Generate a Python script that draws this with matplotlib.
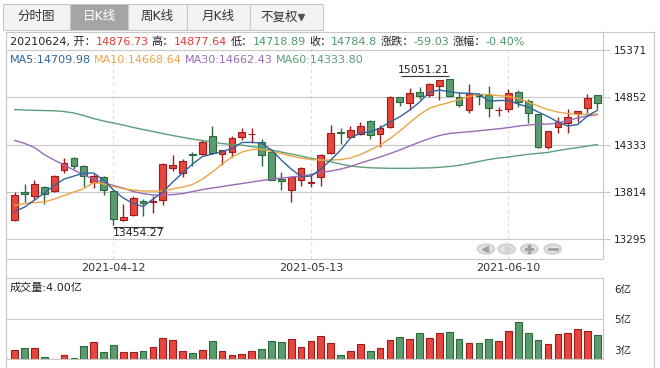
import matplotlib
matplotlib.use("Agg")
import matplotlib.pyplot as plt
from matplotlib.patches import Rectangle, Circle
from matplotlib.lines import Line2D

plt.rcParams['font.family'] = ['DejaVu Sans', 'Noto Sans CJK SC']

# daily candles, 2021-03-26 .. 2021-06-24
opens = [13503, 13813, 13769, 13871, 13821, 14051, 14183, 14102, 13920, 13975,
         13821, 13506, 13558, 13711, 13700, 13725, 14073, 14018, 14230, 14227,
         14424, 14227, 14252, 14420, 14450, 14358, 14249, 13952, 13835, 13945,
         13915, 13974, 14238, 14472, 14417, 14453, 14592, 14449, 14530, 14852,
         14793, 14907, 14877, 14973, 15049, 14852, 14713, 14888, 14877, 14710,
         14720, 14913, 14808, 14665, 14304, 14523, 14567, 14683, 14731, 14876.73]
highs = [13816, 13901, 13941, 13875, 13996, 14183, 14197, 14105, 14007, 13989,
         13830, 13678, 13769, 13733, 13769, 14135, 14216, 14178, 14255, 14384,
         14537, 14275, 14427, 14512, 14512, 14391, 14260, 14036, 13989, 14091,
         14018, 14230, 14548, 14519, 14540, 14584, 14600, 14548, 14866, 14860,
         14951, 14968, 15006, 15045, 15051.21, 14913, 14998, 14895, 14976, 14749,
         14940, 14932, 14830, 14670, 14485, 14633, 14720, 14705, 14885, 14877.64]
lows = [13495, 13700, 13725, 13678, 13815, 14018, 14069, 13865, 13854, 13777,
        13454.27, 13500, 13555, 13550, 13580, 13670, 14047, 13981, 14098, 14222,
        14232, 14109, 14194, 14384, 14347, 14098, 13940, 13835, 13707, 13879,
        13871, 13879, 14235, 14340, 14410, 14440, 14391, 14303, 14512, 14760,
        14713, 14830, 14852, 14822, 14855, 14750, 14677, 14768, 14633, 14647,
        14694, 14749, 14567, 14293, 14288, 14464, 14464, 14584, 14677, 14718.89]
closes = [13778, 13791, 13897, 13788, 13985, 14128, 14095, 13985, 13992, 13832,
          13514, 13536, 13744, 13689, 13715, 14117, 14106, 14150, 14224, 14358,
          14238, 14271, 14402, 14468, 14455, 14216, 13945, 13930, 13974, 14073,
          13920, 14216, 14457, 14457, 14490, 14537, 14438, 14512, 14855, 14797,
          14896, 14866, 14995, 15038, 14863, 14764, 14896, 14870, 14731, 14715,
          14896, 14804, 14676, 14304, 14479, 14584, 14639, 14702, 14843.83, 14784.8]

ma5 = [13599, 13648, 13725, 13802, 13884, 13955, 13988, 14021, 14021, 13945,
       13835, 13747, 13687, 13654, 13736, 13813, 13923, 14021, 14120, 14202,
       14230, 14257, 14290, 14356, 14358, 14350, 14274, 14164, 14065, 13983,
       13988, 14065, 14164, 14274, 14405, 14460, 14474, 14515, 14581, 14639,
       14712, 14800, 14910, 14932, 14915, 14899, 14896, 14888, 14811, 14817,
       14817, 14778, 14745, 14691, 14641, 14581, 14537, 14553, 14647, 14709.98]
ma10 = [13665, 13687, 13698, 13703, 13736, 13775, 13813, 13851, 13917, 13901,
        13873, 13851, 13835, 13824, 13824, 13824, 13846, 13868, 13895, 13955,
        14032, 14120, 14197, 14252, 14279, 14281, 14257, 14235, 14208, 14186,
        14169, 14164, 14164, 14169, 14186, 14224, 14274, 14328, 14400, 14482,
        14575, 14663, 14734, 14767, 14795, 14828, 14861, 14882, 14882, 14871,
        14861, 14839, 14800, 14756, 14718, 14690, 14674, 14665, 14665, 14668.64]
ma30 = [14378, 14347, 14301, 14224, 14164, 14109, 14054, 13999, 13955, 13917,
        13884, 13857, 13818, 13796, 13780, 13780, 13785, 13796, 13818, 13840,
        13857, 13873, 13890, 13906, 13923, 13939, 13955, 13966, 13977, 13988,
        14005, 14027, 14043, 14065, 14093, 14131, 14164, 14197, 14235, 14274,
        14318, 14361, 14400, 14433, 14455, 14466, 14474, 14485, 14496, 14507,
        14520, 14537, 14548, 14556, 14559, 14570, 14597, 14625, 14647, 14662.43]
ma60 = [14718, 14712, 14709, 14707, 14704, 14696, 14680, 14652, 14619, 14592,
        14570, 14548, 14521, 14499, 14477, 14455, 14433, 14413, 14394, 14378,
        14361, 14345, 14334, 14328, 14312, 14296, 14274, 14252, 14230, 14208,
        14183, 14164, 14145, 14120, 14098, 14087, 14079, 14076, 14073, 14073,
        14073, 14076, 14078, 14084, 14093, 14106, 14126, 14148, 14170, 14186,
        14197, 14213, 14227, 14237, 14248, 14268, 14285, 14301, 14318, 14333.80]

# volume in 亿
volumes = [3.13, 3.23, 3.23, 2.69, 2.59, 2.81, 2.65, 3.35, 3.60, 2.99,
           3.40, 2.99, 2.99, 3.07, 3.30, 3.82, 3.70, 3.07, 2.93, 3.11,
           3.66, 3.07, 2.81, 2.89, 3.07, 3.18, 3.66, 3.60, 3.76, 3.30,
           3.66, 3.94, 3.56, 2.81, 3.07, 3.46, 3.07, 3.24, 3.70, 3.88,
           3.76, 4.12, 3.82, 4.12, 4.18, 3.76, 3.52, 3.52, 3.76, 3.64,
           4.24, 4.77, 4.12, 3.70, 3.46, 4.06, 4.12, 4.36, 4.24, 4.00]

price_ticks = [13295, 13814, 14333, 14852, 15371]
date_pos = [10, 30, 50]
date_labels = ["2021-04-12", "2021-05-13", "2021-06-10"]
vol_tick_pos = [6.76, 5.0, 3.12]
vol_tick_labels = ["6亿", "5亿", "3亿"]
tabs = ["分时图", "日K线", "周K线", "月K线", "不复权"]

W, H = 660, 368
UP_FILL, UP_EDGE = '#e5463d', '#9e1c1c'
DN_FILL, DN_EDGE = '#5c9b70', '#2b6a3a'
RED_TXT, GRN_TXT = '#e23c33', '#4c9a6a'
C_MA5, C_MA10, C_MA30, C_MA60 = '#2f64a0', '#e9a545', '#9a6bb5', '#5a9f78'
GRID = '#c8c8c8'


def fx(x):
    return x / W


def fy(y):
    return 1 - y / H


def fig_line(fig, xs, ys, **kw):
    fig.add_artist(Line2D([fx(x) for x in xs], [fy(y) for y in ys], **kw))


def text_row(fig, renderer, x, y, parts, size):
    for s, color, gap in parts:
        t = fig.text(fx(x), fy(y), s, color=color, fontsize=size, va='center')
        x += t.get_window_extent(renderer).width + gap


def main():
    fig = plt.figure(figsize=(6.6, 3.68), dpi=100)
    fig.patch.set_facecolor('white')
    idx = list(range(len(closes)))
    xlim = (-0.912, 59.57)

    # price panel
    ax = fig.add_axes([fx(5.7), fy(259.3), fx(603) - fx(5.7), fy(31.7) - fy(259.3)])
    ax.set_xlim(*xlim)
    ax.set_ylim(13075, 15572)
    for p in date_pos:
        ax.axvline(p, color='#dcdcdc', lw=0.8, ls=(0, (3, 3)), zorder=0)
    for i in idx:
        o, h, l, c = opens[i], highs[i], lows[i], closes[i]
        up = c >= o
        edge = UP_EDGE if up else DN_EDGE
        fill = UP_FILL if up else DN_FILL
        ax.vlines(i, l, h, color=edge, lw=1.0, zorder=2)
        ax.bar(i, max(abs(c - o), 3), bottom=min(o, c), width=0.68,
               color=fill, edgecolor=edge, linewidth=0.8, zorder=3)
    ax.plot(idx, ma60, color=C_MA60, lw=1.0, zorder=4)
    ax.plot(idx, ma30, color=C_MA30, lw=1.0, zorder=4)
    ax.plot(idx, ma10, color=C_MA10, lw=1.0, zorder=4)
    ax.plot(idx, ma5, color=C_MA5, lw=1.0, zorder=4)

    # extreme markers
    ax.hlines(15089, 44 - 4.9, 44, color='#333333', lw=0.8)
    ax.text(44, 15095, "15051.21", ha='right', va='bottom', fontsize=7.8, color='#222222')
    ax.hlines(13432, 9.93, 15.0, color='#333333', lw=0.8)
    ax.text(9.93, 13415, "13454.27", ha='left', va='top', fontsize=7.8, color='#222222')

    ax.set_yticks(price_ticks)
    ax.yaxis.tick_right()
    ax.yaxis.grid(True, color=GRID, lw=0.8)
    ax.tick_params(axis='y', length=5, color=GRID, labelsize=7.5, pad=3, labelcolor='#222222')
    ax.set_xticks(date_pos, date_labels)
    ax.tick_params(axis='x', length=0, pad=3, labelsize=8, labelcolor='#333333')
    for sp in ax.spines.values():
        sp.set_color(GRID)
        sp.set_linewidth(0.8)

    # volume panel
    vax = fig.add_axes([fx(5.7), fy(359.3), fx(603) - fx(5.7), fy(278.3) - fy(359.3)])
    vax.set_xlim(*xlim)
    vax.set_ylim(2.57, 7.41)
    vax.axhline(5, color=GRID, lw=0.8, zorder=0)
    for i in idx:
        up = closes[i] >= opens[i]
        vax.bar(i, volumes[i], width=0.68, color=UP_FILL if up else DN_FILL,
                edgecolor=UP_EDGE if up else DN_EDGE, linewidth=0.8)
    vax.set_xticks([])
    vax.set_yticks(vol_tick_pos, vol_tick_labels)
    vax.yaxis.tick_right()
    vax.tick_params(axis='y', length=0, pad=8, labelsize=7.5, labelcolor='#222222')
    for sp in vax.spines.values():
        sp.set_color(GRID)
        sp.set_linewidth(0.8)
    fig.text(fx(10), fy(288), "成交量:4.00亿", fontsize=8, va='center', color='#222222')

    # outer frame
    fig_line(fig, [603, 654], [31.7, 31.7], color=GRID, lw=0.8)
    fig_line(fig, [654, 654], [31.7, 368], color=GRID, lw=0.8)
    fig_line(fig, [5.7, 5.7], [31.7, 368], color=GRID, lw=0.8)

    # tab bar
    edges = [3, 70, 128, 187, 250, 323]
    for k, name in enumerate(tabs):
        sel = k == 1
        fig.add_artist(Rectangle((fx(edges[k]), fy(29.5)), fx(edges[k + 1]) - fx(edges[k]),
                                 fy(4) - fy(29.5), transform=fig.transFigure,
                                 facecolor='#a5a5a5' if sel else '#f3f3f3',
                                 edgecolor='#c9c9c9', lw=0.8))
        cx = (edges[k] + edges[k + 1]) / 2
        if k == 4:
            cx -= 7
        fig.text(fx(cx), fy(16.8), name, ha='center', va='center', fontsize=9,
                 color='white' if sel else '#333333')
    fig_line(fig, [301], [17], marker='v', ms=4, color='#555555', lw=0)

    # header rows
    fig.canvas.draw()
    renderer = fig.canvas.get_renderer()
    text_row(fig, renderer, 10, 41.7, [
        ("20210624, 开：", '#222222', 0), ("14876.73", RED_TXT, 3),
        ("高：", '#222222', 0), ("14877.64", RED_TXT, 3),
        ("低：", '#222222', 0), ("14718.89", GRN_TXT, 3),
        ("收：", '#222222', 0), ("14784.8", GRN_TXT, 3),
        ("涨跌：", '#222222', 0), ("-59.03", GRN_TXT, 3),
        ("涨幅：", '#222222', 0), ("-0.40%", GRN_TXT, 0)], 8)
    text_row(fig, renderer, 10, 60.3, [
        ("MA5:14709.98", C_MA5, 3), ("MA10:14668.64", C_MA10, 3),
        ("MA30:14662.43", C_MA30, 3), ("MA60:14333.80", C_MA60, 0)], 8)

    # zoom / pan buttons
    for k, (bx, sym) in enumerate(zip([486, 506.7, 529.3, 552.7], ['<', '>', '+', '_'])):
        fig.add_artist(Circle((fx(bx), fy(249)), 8.3 / W, transform=fig.transFigure,
                              facecolor='#e4e4e4', edgecolor='#d2d2d2', lw=1.5))
    fig_line(fig, [485], [249], marker='<', ms=4.5, color='#a0a0a0', lw=0)
    fig_line(fig, [507.5], [249], marker='>', ms=4.5, color='#d0d0d0', lw=0)
    fig_line(fig, [529.3], [249], marker='P', ms=6, color='#a0a0a0', lw=0)
    fig_line(fig, [548.7, 556.7], [249, 249], color='#a0a0a0', lw=2)

    fig.savefig("out.png", dpi=100)


if __name__ == "__main__":
    main()
